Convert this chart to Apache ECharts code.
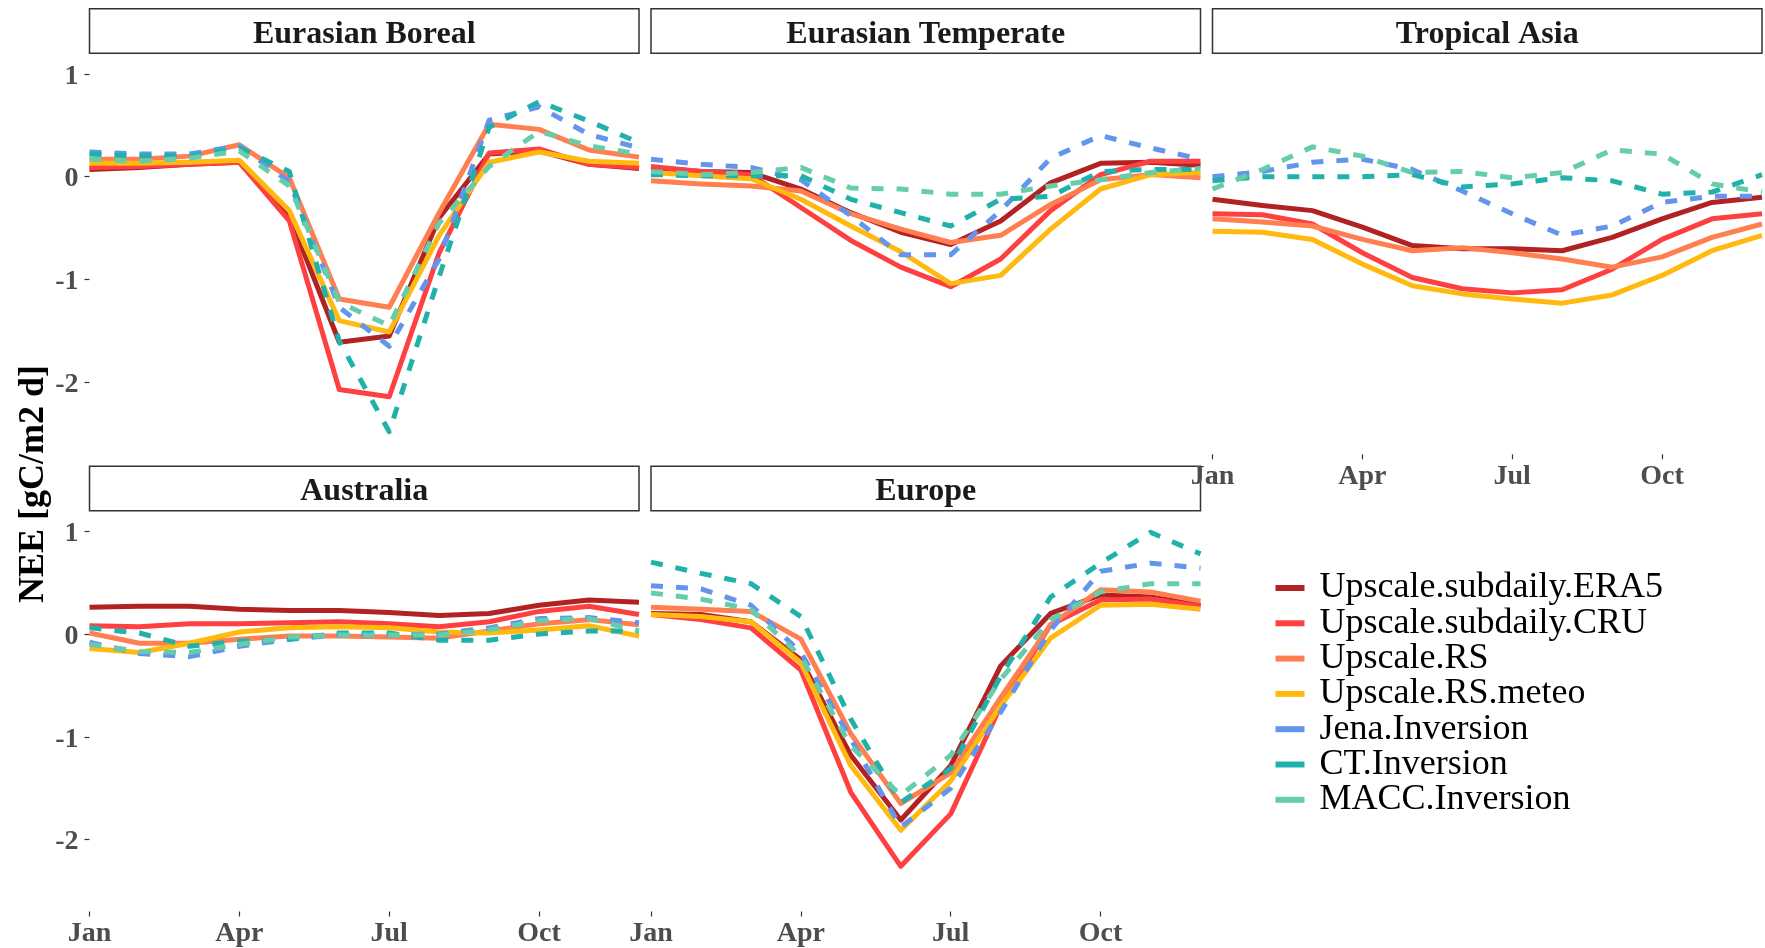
<!DOCTYPE html>
<html>
<head>
<meta charset="utf-8">
<script src="https://cdn.jsdelivr.net/npm/echarts@6/dist/echarts.min.js"></script>
<style>
  html, body { margin: 0; padding: 0; background: #ffffff; }
  #chart { width: 1765px; height: 948px; }
</style>
</head>
<body>
<div id="chart"></div>
<script>
// ---------- data ----------
const months = ['Jan','Feb','Mar','Apr','May','Jun','Jul','Aug','Sep','Oct','Nov','Dec'];
const yTicks = [-2, -1, 0, 1];
const regions = ['Eurasian Boreal', 'Eurasian Temperate', 'Tropical Asia', 'Australia', 'Europe'];
const seriesNames = ['Upscale.subdaily.ERA5','Upscale.subdaily.CRU','Upscale.RS','Upscale.RS.meteo','Jena.Inversion','CT.Inversion','MACC.Inversion'];
const seriesColors = ['#B22222','#FF4040','#FF7F50','#FFB90F','#6495ED','#20B2AA','#66CDAA'];
const seriesDashed = [false,false,false,false,true,true,true];

// Eurasian Boreal
const borealERA5  = [0.07, 0.09, 0.12, 0.14, -0.38, -1.61, -1.55, -0.40, 0.22, 0.25, 0.12, 0.08];
const borealCRU   = [0.09, 0.10, 0.12, 0.14, -0.43, -2.07, -2.14, -0.74, 0.23, 0.27, 0.12, 0.09];
const borealRS    = [0.17, 0.17, 0.20, 0.31, -0.01, -1.19, -1.27, -0.35, 0.51, 0.46, 0.26, 0.19];
const borealRSmet = [0.13, 0.13, 0.14, 0.16, -0.33, -1.40, -1.51, -0.57, 0.14, 0.24, 0.15, 0.13];
const borealJena  = [0.24, 0.22, 0.22, 0.30, -0.05, -1.27, -1.65, -0.80, 0.55, 0.68, 0.41, 0.28];
const borealCT    = [0.22, 0.20, 0.20, 0.28, 0.05, -1.60, -2.48, -0.97, 0.48, 0.73, 0.54, 0.33];
const borealMACC  = [0.17, 0.15, 0.18, 0.25, -0.09, -1.22, -1.45, -0.45, 0.10, 0.44, 0.30, 0.22];

// Eurasian Temperate
const temperateERA5  = [0.09, 0.05, 0.04, -0.12, -0.35, -0.54, -0.66, -0.43, -0.06, 0.13, 0.14, 0.11];
const temperateCRU   = [0.10, 0.05, 0.02, -0.30, -0.62, -0.88, -1.07, -0.80, -0.33, 0.02, 0.15, 0.15];
const temperateRS    = [-0.04, -0.07, -0.09, -0.14, -0.36, -0.51, -0.64, -0.57, -0.27, -0.03, 0.02, -0.01];
const temperateRSmet = [0.04, 0.01, -0.02, -0.22, -0.48, -0.73, -1.04, -0.96, -0.51, -0.12, 0.02, 0.04];
const temperateJena  = [0.17, 0.12, 0.09, -0.03, -0.38, -0.76, -0.76, -0.33, 0.18, 0.40, 0.28, 0.17];
const temperateCT    = [0.02, 0.01, 0.01, 0.01, -0.22, -0.35, -0.48, -0.22, -0.19, 0.05, 0.07, 0.07];
const temperateMACC  = [0.05, 0.02, 0.04, 0.09, -0.11, -0.12, -0.17, -0.17, -0.09, -0.03, 0.04, 0.08];

// Tropical Asia
const tropicalERA5  = [-0.22, -0.28, -0.33, -0.49, -0.67, -0.70, -0.70, -0.72, -0.59, -0.41, -0.25, -0.20];
const tropicalCRU   = [-0.36, -0.37, -0.46, -0.74, -0.98, -1.09, -1.13, -1.10, -0.90, -0.61, -0.41, -0.36];
const tropicalRS    = [-0.41, -0.44, -0.48, -0.61, -0.72, -0.69, -0.74, -0.80, -0.88, -0.78, -0.59, -0.46];
const tropicalRSmet = [-0.53, -0.54, -0.61, -0.85, -1.06, -1.14, -1.19, -1.23, -1.15, -0.96, -0.72, -0.57];
const tropicalJena  = [0.00, 0.05, 0.14, 0.17, 0.07, -0.14, -0.36, -0.57, -0.48, -0.25, -0.19, -0.19];
const tropicalCT    = [-0.04, 0.00, 0.00, 0.00, 0.02, -0.10, -0.07, -0.01, -0.04, -0.17, -0.15, 0.02];
const tropicalMACC  = [-0.12, 0.07, 0.29, 0.20, 0.04, 0.05, -0.01, 0.04, 0.26, 0.22, -0.07, -0.15];

// Australia
const australiaERA5  = [0.26, 0.27, 0.27, 0.24, 0.23, 0.23, 0.21, 0.18, 0.20, 0.28, 0.33, 0.31];
const australiaCRU   = [0.08, 0.07, 0.10, 0.10, 0.11, 0.12, 0.10, 0.07, 0.12, 0.22, 0.27, 0.19];
const australiaRS    = [0.01, -0.09, -0.09, -0.05, -0.02, -0.02, -0.03, -0.04, 0.03, 0.10, 0.14, 0.09];
const australiaRSmet = [-0.14, -0.18, -0.09, 0.02, 0.06, 0.07, 0.06, 0.02, 0.01, 0.04, 0.08, -0.02];
const australiaJena  = [-0.08, -0.19, -0.22, -0.12, -0.05, -0.01, -0.01, 0.00, 0.06, 0.15, 0.16, 0.11];
const australiaCT    = [0.06, 0.01, -0.12, -0.07, -0.05, 0.01, 0.01, -0.06, -0.06, 0.00, 0.03, 0.03];
const australiaMACC  = [-0.10, -0.17, -0.18, -0.10, -0.03, -0.01, -0.01, -0.01, 0.04, 0.13, 0.15, 0.03];

// Europe
const europeERA5  = [0.20, 0.19, 0.12, -0.25, -1.18, -1.81, -1.28, -0.31, 0.20, 0.38, 0.36, 0.28];
const europeCRU   = [0.19, 0.14, 0.06, -0.35, -1.54, -2.26, -1.75, -0.70, 0.09, 0.33, 0.34, 0.27];
const europeRS    = [0.26, 0.24, 0.22, -0.05, -0.97, -1.65, -1.35, -0.62, 0.09, 0.43, 0.41, 0.32];
const europeRSmet = [0.19, 0.17, 0.12, -0.28, -1.28, -1.91, -1.43, -0.70, -0.04, 0.28, 0.29, 0.24];
const europeJena  = [0.47, 0.44, 0.28, -0.18, -1.02, -1.88, -1.50, -0.76, 0.04, 0.61, 0.69, 0.64];
const europeCT    = [0.70, 0.59, 0.49, 0.17, -0.83, -1.64, -1.31, -0.41, 0.36, 0.69, 0.99, 0.78];
const europeMACC  = [0.40, 0.34, 0.24, -0.22, -1.09, -1.57, -1.18, -0.44, 0.14, 0.41, 0.49, 0.49];

const panelData = [
  [borealERA5, borealCRU, borealRS, borealRSmet, borealJena, borealCT, borealMACC],
  [temperateERA5, temperateCRU, temperateRS, temperateRSmet, temperateJena, temperateCT, temperateMACC],
  [tropicalERA5, tropicalCRU, tropicalRS, tropicalRSmet, tropicalJena, tropicalCT, tropicalMACC],
  [australiaERA5, australiaCRU, australiaRS, australiaRSmet, australiaJena, australiaCT, australiaMACC],
  [europeERA5, europeCRU, europeRS, europeRSmet, europeJena, europeCT, europeMACC]
];

// ---------- layout ----------
const FONT = "'Liberation Serif', 'Times New Roman', serif";
const colLeft = [89.5, 651, 1212.5];
const panelW = 549.5;
const rowTop = [53.3, 510.7];
const panelH = 401;
const stripH = 44.5;
const yMin = -2.70, yMax = 1.20;
const panelPos = [[0,0],[1,0],[2,0],[0,1],[1,1]];
const showY = [true,false,false,true,false];
const showX = [false,false,true,true,true];

const grids = [], xAxes = [], yAxes = [], series = [], graphics = [];
panelPos.forEach(([c, r], i) => {
  const left = colLeft[c], top = rowTop[r];
  grids.push({ left: left, top: top, width: panelW, height: panelH, containLabel: false });
  xAxes.push({
    type: 'category', gridIndex: i, data: months, boundaryGap: false, position: 'bottom',
    axisLine: { show: false, onZero: false },
    axisTick: { show: showX[i], interval: 2, length: 5, lineStyle: { color: '#333333', width: 1.2 } },
    axisLabel: { show: showX[i], interval: 2, margin: 8.5, color: '#4D4D4D',
      fontFamily: FONT, fontWeight: 'bold', fontSize: 28 },
    splitLine: { show: false }
  });
  yAxes.push({
    type: 'value', gridIndex: i, min: yMin, max: yMax, position: 'left',
    axisLine: { show: false, onZero: false },
    axisTick: { show: showY[i], length: 5, customValues: yTicks, lineStyle: { color: '#333333', width: 1.2 } },
    axisLabel: { show: showY[i], customValues: yTicks, margin: 11, color: '#4D4D4D',
      verticalAlign: 'top', lineHeight: 5,
      fontFamily: FONT, fontWeight: 'bold', fontSize: 28 },
    splitLine: { show: false }
  });
  panelData[i].forEach((vals, k) => {
    series.push({
      type: 'line', name: seriesNames[k], xAxisIndex: i, yAxisIndex: i,
      data: vals, symbol: 'none', silent: true, color: seriesColors[k],
      lineStyle: { color: seriesColors[k], width: 5, type: seriesDashed[k] ? [12, 13] : 'solid', cap: 'butt', join: 'round' },
      z: 2 + k
    });
  });
  // facet strip
  const sTop = top - stripH;
  graphics.push({ type: 'rect', shape: { x: left, y: sTop, width: panelW, height: stripH },
    style: { fill: '#ffffff', stroke: '#333333', lineWidth: 1.5 }, silent: true });
  graphics.push({ type: 'text', x: left + panelW / 2, y: sTop + stripH / 2 + 3.5,
    style: { text: regions[i], fontFamily: FONT, fontWeight: 'bold', fontSize: 32, fill: '#1A1A1A',
      align: 'center', verticalAlign: 'middle', textAlign: 'center', textVerticalAlign: 'middle' }, silent: true });
});

// y-axis title
graphics.push({ type: 'text', x: 34, y: 484, rotation: Math.PI / 2,
  style: { text: 'NEE [gC/m2 d]', fontFamily: FONT, fontWeight: 'bold', fontSize: 36, fill: '#000000',
    align: 'center', verticalAlign: 'middle', textAlign: 'center', textVerticalAlign: 'middle' }, silent: true });

const chart = echarts.init(document.getElementById('chart'), null, { renderer: 'canvas' });
chart.setOption({
  backgroundColor: '#ffffff',
  animation: false,
  grid: grids,
  xAxis: xAxes,
  yAxis: yAxes,
  series: series,
  graphic: graphics,
  legend: {
    data: seriesNames, orient: 'vertical', left: 1270.5, top: 565,
    icon: 'rect', itemWidth: 29, itemHeight: 6, itemGap: -0.7,
    itemStyle: { borderWidth: 0 },
    lineStyle: { type: 'solid' },
    textStyle: { fontFamily: FONT, fontSize: 36, color: '#000000', padding: [0, 0, 0, 10] },
    selectedMode: false
  }
});
</script>
</body>
</html>
